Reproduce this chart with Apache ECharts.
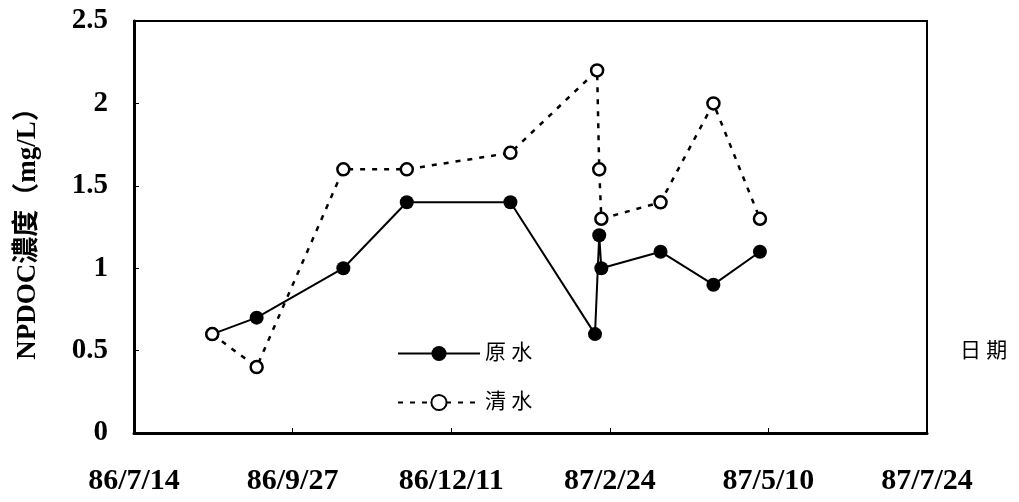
<!DOCTYPE html>
<html>
<head>
<meta charset="utf-8">
<script src="https://cdn.jsdelivr.net/npm/echarts@6/dist/echarts.min.js"></script>
<style>
  html, body { margin: 0; padding: 0; background: #fff; }
  #chart { width: 1019px; height: 502px; }
</style>
</head>
<body>
<div id="chart"></div>
<script>
// ROC calendar dates (民國年), tick every 75 days
const xTickLabels = ['86/7/14', '86/9/27', '86/12/11', '87/2/24', '87/5/10', '87/7/24'];
const yTickLabels = ['0', '0.5', '1', '1.5', '2', '2.5'];

const rawDates = ['86/8/20', '86/9/10', '86/10/21', '86/11/20', '87/1/8', '87/2/17', '87/2/19', '87/2/20', '87/3/20', '87/4/14', '87/5/6'];
const rawValues = [0.6, 0.7, 1.0, 1.4, 1.4, 0.6, 1.2, 1.0, 1.1, 0.9, 1.1];

const cleanDates = ['86/8/20', '86/9/10', '86/10/21', '86/11/20', '87/1/8', '87/2/18', '87/2/19', '87/2/20', '87/3/20', '87/4/14', '87/5/6'];
const cleanValues = [0.6, 0.4, 1.6, 1.6, 1.7, 2.2, 1.6, 1.3, 1.4, 2.0, 1.3];

const serif = "'Liberation Serif', 'Times New Roman', serif";
const cjk = "'Liberation Serif', 'Noto Sans CJK TC', serif";

const toUtc = (s) => {
    const [y, m, d] = s.split('/').map(Number);
    return Date.UTC(y + 1911, m - 1, d);
};
const base = toUtc(xTickLabels[0]);
const dayOf = (s) => Math.round((toUtc(s) - base) / 86400000);
const step = dayOf(xTickLabels[1]);
const xMax = dayOf(xTickLabels[xTickLabels.length - 1]);

const pairs = (dates, vals) => dates.map((d, i) => [dayOf(d), vals[i]]);

const chart = echarts.init(document.getElementById('chart'));
chart.setOption({
    animation: false,
    backgroundColor: '#fff',
    title: {
        text: '日 期',
        left: 955,
        top: 336,
        textStyle: { fontFamily: cjk, fontSize: 21, fontWeight: 'normal', color: '#000' }
    },
    legend: {
        orient: 'vertical',
        left: 392,
        top: 338,
        itemWidth: 82,
        itemHeight: 19,
        itemGap: 28,
        data: ['原水', '清水'],
        formatter: (n) => n.split('').join(' '),
        textStyle: { fontFamily: cjk, fontSize: 21, color: '#000' }
    },
    grid: {
        left: 134, right: 92, top: 21, bottom: 69,
        show: true, borderColor: '#000', borderWidth: 2
    },
    xAxis: {
        type: 'value',
        min: 0,
        max: xMax,
        interval: step,
        axisLine: { lineStyle: { color: '#000', width: 3 } },
        axisTick: { inside: true, length: 5, lineStyle: { color: '#000' } },
        splitLine: { show: false },
        axisLabel: {
            margin: 33,
            color: '#000',
            fontFamily: serif,
            fontWeight: 'bold',
            fontSize: 30,
            formatter: (v) => xTickLabels[Math.round(v / step)]
        }
    },
    yAxis: {
        type: 'value',
        min: 0,
        max: 2.5,
        interval: 0.5,
        name: 'NPDOC濃度（mg/L）',
        nameLocation: 'middle',
        nameGap: 92,
        nameTextStyle: { fontFamily: cjk, fontWeight: 'bold', fontSize: 27, color: '#000' },
        axisLine: { show: true, lineStyle: { color: '#000', width: 3 } },
        axisTick: { show: true, inside: true, length: 5, lineStyle: { color: '#000' } },
        splitLine: { show: false },
        axisLabel: {
            margin: 26,
            color: '#000',
            fontFamily: serif,
            fontWeight: 'bold',
            fontSize: 29,
            formatter: (v) => yTickLabels[Math.round(v / 0.5)]
        }
    },
    series: [
        {
            name: '原水',
            type: 'line',
            data: pairs(rawDates, rawValues),
            symbol: 'circle',
            symbolSize: 14,
            itemStyle: { color: '#000' },
            lineStyle: { color: '#000', width: 2 }
        },
        {
            name: '清水',
            type: 'line',
            data: pairs(cleanDates, cleanValues),
            symbol: 'circle',
            symbolSize: 12,
            itemStyle: { color: '#fff', borderColor: '#000', borderWidth: 2.5 },
            lineStyle: { color: '#000', width: 2.5, type: [5, 7] }
        }
    ]
});
</script>
</body>
</html>
